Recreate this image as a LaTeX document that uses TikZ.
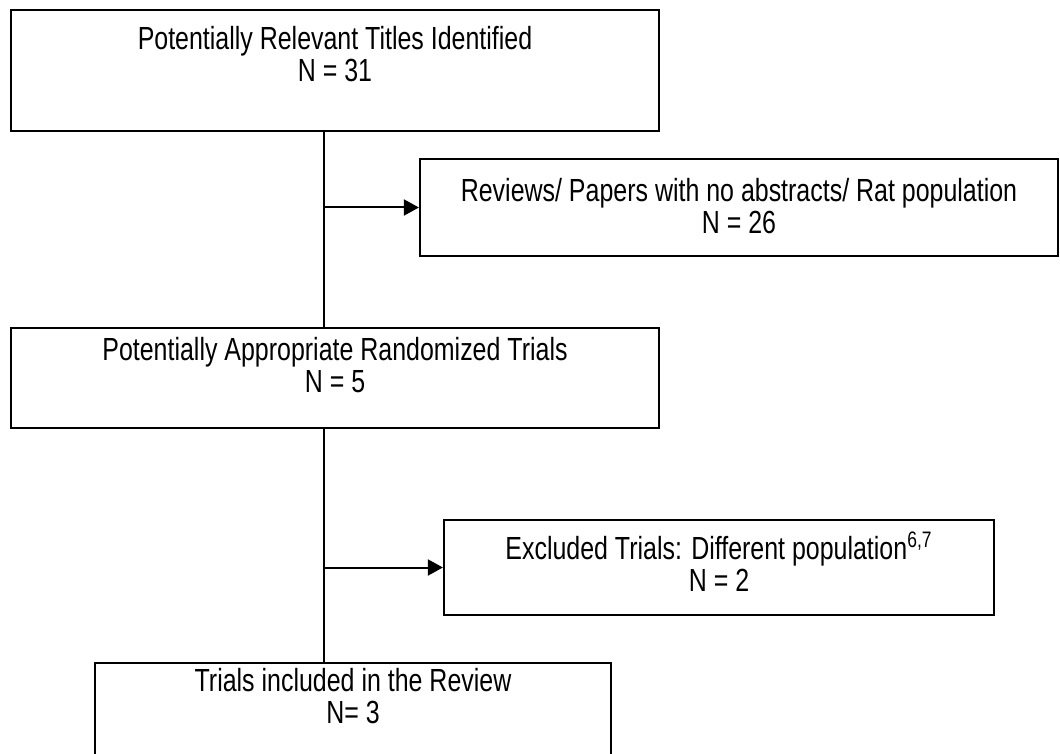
\documentclass[tikz,border=0pt]{standalone}
\usepackage{fontspec}
\setmainfont{Liberation Sans}[FakeStretch=0.78]
\usetikzlibrary{arrows.meta, positioning, calc}

\begin{document}
\begin{tikzpicture}[
    x=0.5pt, y=-0.5pt,
    % === STYLES ===
    flowbox/.style={
        rectangle,
        draw=black,
        line width=1.1pt,
        inner sep=0pt
    },
    boxtext/.style={
        font=\fontsize{16}{16}\selectfont,
        align=center,
        inner sep=0pt
    },
    arrow/.style={
        -{Triangle[length=7.5pt, width=8pt]},
        line width=1pt
    },
    trunk/.style={
        line width=1pt
    }
]
\useasboundingbox (0,0) rectangle (1060,754);
\clip (0,0) rectangle (1060,754);

% === BOXES ===
\node[flowbox, minimum width=324pt, minimum height=60.5pt] (titles) at (335,70.5) {};
\node[flowbox, minimum width=319pt, minimum height=48.5pt] (reviews) at (739,207.5) {};
\node[flowbox, minimum width=324pt, minimum height=50pt] (potential) at (335,378) {};
\node[flowbox, minimum width=275pt, minimum height=47.5pt] (excluded) at (719,567.5) {};
\node[flowbox, minimum width=258pt, minimum height=48pt] (included) at (353,711) {};

% === TEXTS ===
\node[boxtext] (titlestext) at ([yshift=-22.5pt]titles.north) {Potentially Relevant Titles Identified\\N = 31};
\node[boxtext] (reviewstext) at ([yshift=-24pt]reviews.north) {Reviews/ Papers with no abstracts/ Rat population\\N = 26};
\node[boxtext] (potentialtext) at ([yshift=-19pt]potential.north) {Potentially Appropriate Randomized Trials\\N = 5};
\node[boxtext] (excludedtext) at ([yshift=-21.5pt]excluded.north) {Excluded Trials: Different population\textsuperscript{6,7}\\N = 2};
\node[boxtext] (includedtext) at ([yshift=-17pt]included.north) {Trials included in the Review\\N= 3};

% === CONNECTIONS ===
\coordinate (trunk) at (324,0);
\draw[trunk] (trunk |- titles.south) -- (trunk |- potential.north);
\draw[trunk] (trunk |- potential.south) -- (trunk |- included.north);
\draw[arrow] (trunk |- reviews.west) -- (reviews.west);
\draw[arrow] (trunk |- excluded.west) -- (excluded.west);

\end{tikzpicture}
\end{document}
